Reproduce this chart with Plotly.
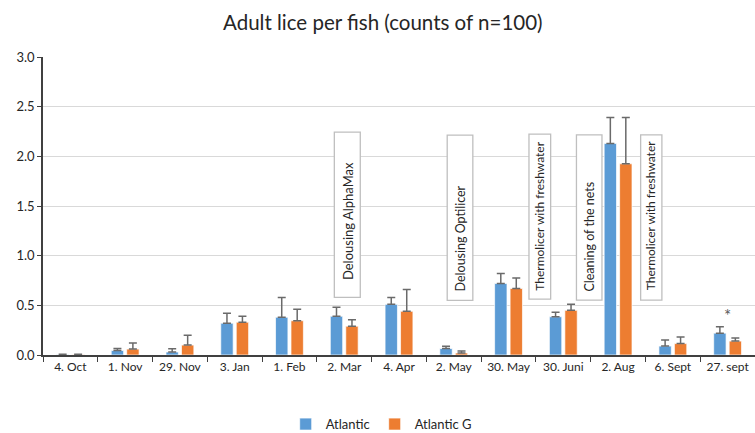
import plotly.graph_objects as go

categories = ["4. Oct", "1. Nov", "29. Nov", "3. Jan", "1. Feb", "2. Mar", "4. Apr",
              "2. May", "30. May", "30. Juni", "2. Aug", "6. Sept", "27. sept"]
atlantic = [0.005, 0.045, 0.03, 0.32, 0.38, 0.39, 0.51, 0.065, 0.72, 0.385, 2.13, 0.09, 0.22]
atlantic_err = [0.003, 0.02, 0.033, 0.10, 0.20, 0.09, 0.07, 0.022, 0.10, 0.045, 0.26, 0.06, 0.065]
atlantic_g = [0.005, 0.06, 0.10, 0.33, 0.345, 0.29, 0.44, 0.02, 0.67, 0.45, 1.925, 0.115, 0.14]
atlantic_g_err = [0.003, 0.06, 0.10, 0.06, 0.115, 0.065, 0.22, 0.02, 0.105, 0.06, 0.465, 0.065, 0.032]

event_labels = ["Delousing AlphaMax", "Delousing Optilicer", "Thermolicer with freshwater",
                "Cleaning of the nets", "Thermolicer with freshwater"]
# positions (category-index units) and box geometry in data units
event_x = [5.056, 7.114, 8.571, 9.473, 10.606]
event_halfw = [0.237, 0.234, 0.198, 0.233, 0.194]
event_top = [2.243, 2.213, 2.223, 2.216, 2.216]
event_bottom = [0.58, 0.55, 0.563, 0.553, 0.553]
event_text_bottom = [0.737, 0.62, 0.63, 0.62, 0.63]
event_font_size = [13, 12.5, 12, 12.5, 12]

FONT = "Lato"
TXT = "#262626"

fig = go.Figure()
fig.add_trace(go.Bar(
    name="Atlantic", x=categories, y=atlantic,
    marker=dict(color="#5b9bd5", line=dict(color="white", width=0.7)),
    error_y=dict(type="data", array=atlantic_err, arrayminus=[0] * len(atlantic),
                 symmetric=False, color="#6a6a6a", thickness=1.5, width=4),
))
fig.add_trace(go.Bar(
    name="Atlantic G", x=categories, y=atlantic_g,
    marker=dict(color="#ed7d31", line=dict(color="white", width=0.7)),
    error_y=dict(type="data", array=atlantic_g_err, arrayminus=[0] * len(atlantic_g),
                 symmetric=False, color="#6a6a6a", thickness=1.5, width=4),
))

for lbl, x, hw, top, bot, tb, fs in zip(event_labels, event_x, event_halfw, event_top,
                                         event_bottom, event_text_bottom, event_font_size):
    fig.add_shape(type="rect", xref="x", yref="y", x0=x - hw, x1=x + hw, y0=bot, y1=top,
                  line=dict(color="#bfbfbf", width=1.3), fillcolor="white", layer="above")
    fig.add_annotation(x=x, y=tb, xref="x", yref="y", text=lbl, textangle=-90,
                       showarrow=False, xanchor="center", yanchor="bottom",
                       font=dict(family=FONT, size=fs, color=TXT))

fig.add_annotation(x=12, y=0.395, xref="x", yref="y", text="*", showarrow=False,
                   font=dict(family=FONT, size=17, color="#595959"))

fig.update_layout(
    width=755, height=433,
    margin=dict(l=43, r=0, t=57, b=78, autoexpand=False),
    paper_bgcolor="white", plot_bgcolor="white",
    barmode="group", bargap=0.435, bargroupgap=0.2,
    title=dict(text="Adult lice per fish (counts of n=100)", x=0.507, xref="container",
               xanchor="center", y=0.948, yanchor="middle",
               font=dict(family=FONT, size=20.5, color=TXT)),
    font=dict(family=FONT, size=12, color=TXT),
    legend=dict(orientation="h", x=0.475, xanchor="center", y=-0.232, yanchor="middle",
                font=dict(family=FONT, size=13, color=TXT), itemwidth=30,
                traceorder="normal"),
    showlegend=True,
)
fig.update_xaxes(type="category", showline=True, linecolor="#404040", linewidth=1.5,
                 ticks="outside", tickson="boundaries", ticklen=5, tickcolor="#404040",
                 tickangle=0, automargin=False,
                 tickfont=dict(family=FONT, size=12, color=TXT), showgrid=False)
fig.update_yaxes(range=[0, 3.0], dtick=0.5, tickformat=".1f", showline=True,
                 linecolor="#404040", linewidth=1.5, ticks="outside", ticklen=4,
                 tickcolor="#404040", showgrid=True, gridcolor="#d9d9d9", gridwidth=1.3,
                 zeroline=False, automargin=False,
                 tickfont=dict(family=FONT, size=13, color=TXT))

fig.write_html("out.html")
